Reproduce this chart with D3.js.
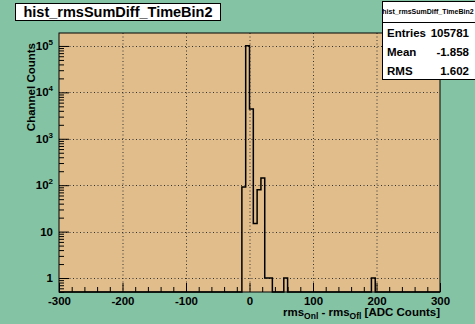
<!DOCTYPE html>
<html>
<head>
<meta charset="utf-8">
<script src="https://cdn.jsdelivr.net/npm/d3@7"></script>
<style>
  body { margin:0; background:#84c3a4; }
  svg { display:block; font-family:"Liberation Sans", Arial, sans-serif; }
  .tl { font-weight:bold; font-size:11.5px; fill:#000; }
</style>
</head>
<body>
<svg id="chart" width="475" height="324"></svg>
<script>
// histogram content (bins of width 6 between -300 and 300), only non-empty bins listed
const binWidth = 6;
const binLow = [-12, -6, 0, 6, 12, 18, 24, 30, 54, 192];
const counts = [91, 101000, 4400, 15, 80, 143, 1, 1, 1, 1];

const xTicks = [-300, -200, -100, 0, 100, 200, 300];
const yDecades = [1, 10, 100, 1000, 10000, 100000];
const yLabels = [["1", ""], ["10", ""], ["10", "2"], ["10", "3"], ["10", "4"], ["10", "5"]];

const statNames = ["Entries", "Mean", "RMS"];
const statValues = ["105781", "-1.858", "1.602"];
const histName = "hist_rmsSumDiff_TimeBin2";

const frame = {x0:59, x1:440, y0:33, y1:292};
const svg = d3.select('#chart');

const x = d3.scaleLinear().domain([-300, 300]).range([frame.x0, frame.x1]);
const y = d3.scaleLog().domain([0.5, 1.9e5]).range([frame.y1, frame.y0]);

// frame fill
svg.append('rect')
    .attr('x', frame.x0).attr('y', frame.y0)
    .attr('width', frame.x1-frame.x0).attr('height', frame.y1-frame.y0)
    .attr('fill', '#e0bd8b');

// grid (dotted)
const grid = svg.append('g').attr('stroke', '#333').attr('stroke-width', 1).attr('stroke-dasharray', '1,2.5');
grid.selectAll('line.gx').data(xTicks.slice(1, -1)).enter().append('line')
    .attr('x1', d => x(d)+0.5).attr('x2', d => x(d)+0.5)
    .attr('y1', frame.y0).attr('y2', frame.y1);
grid.selectAll('line.gy').data(yDecades).enter().append('line')
    .attr('y1', d => Math.round(y(d))+0.5).attr('y2', d => Math.round(y(d))+0.5)
    .attr('x1', frame.x0).attr('x2', frame.x1);

// full histogram
const full = d3.range(100).map(i => {
    const lo = -300 + i*binWidth;
    const k = binLow.indexOf(lo);
    return {lo:lo, hi:lo+binWidth, v: k < 0 ? 0 : counts[k]};
});
const yv = v => v > 0 ? y(v) : frame.y1;
let p = `M${x(-300)},${frame.y1}`;
full.forEach(b => { p += `L${x(b.lo)},${yv(b.v)}L${x(b.hi)},${yv(b.v)}`; });
p += `L${x(300)},${frame.y1}`;
svg.append('path').attr('d', p).attr('fill', 'none')
    .attr('stroke', '#000').attr('stroke-width', 1.5);

// frame border
svg.append('rect')
    .attr('x', frame.x0).attr('y', frame.y0)
    .attr('width', frame.x1-frame.x0).attr('height', frame.y1-frame.y0)
    .attr('fill', 'none').attr('stroke', '#000').attr('stroke-width', 1);

// x axis: inward ticks
const xMinor = d3.range(-300, 301, 20).filter(v => v % 100 !== 0);
svg.append('g').attr('transform', `translate(0,${frame.y1})`)
    .call(d3.axisBottom(x).tickValues(xMinor).tickSize(-5).tickFormat(''))
    .call(g => g.select('.domain').remove());
svg.append('g').attr('transform', `translate(0,${frame.y1})`)
    .call(d3.axisBottom(x).tickValues(xTicks).tickSize(-9).tickPadding(5).tickFormat(d3.format('d')))
    .call(g => g.select('.domain').remove())
    .call(g => g.selectAll('text').attr('class', 'tl').attr('font-family', null).attr('font-size', null).text(d => d));

// y axis: inward ticks
const yMinor = [];
[0.1, 1, 10, 100, 1000, 10000, 100000].forEach(dec => d3.range(2, 10).forEach(m => {
    const v = dec*m; if (v >= 0.5 && v <= 1.9e5) yMinor.push(v);
}));
svg.append('g').attr('transform', `translate(${frame.x0},0)`)
    .call(d3.axisLeft(y).tickValues(yMinor).tickSize(-5).tickFormat(''))
    .call(g => g.select('.domain').remove());
svg.append('g').attr('transform', `translate(${frame.x0},0)`)
    .call(d3.axisLeft(y).tickValues(yDecades).tickSize(-10).tickFormat(''))
    .call(g => g.select('.domain').remove());

const yl = svg.append('g');
yDecades.forEach((d, i) => {
    const t = yl.append('text').attr('class', 'tl')
        .attr('x', 53).attr('y', y(d) + 4).attr('text-anchor', 'end');
    t.append('tspan').text(yLabels[i][0]);
    if (yLabels[i][1]) t.append('tspan').attr('dy', -5).attr('font-size', 8).text(yLabels[i][1]);
});

// axis titles
svg.append('text').attr('class', 'tl')
    .attr('transform', `translate(35,${frame.y0+10}) rotate(-90)`)
    .attr('text-anchor', 'end').text('Channel Counts');

const xt = svg.append('text').attr('class', 'tl')
    .attr('x', frame.x1).attr('y', 316).attr('text-anchor', 'end');
xt.append('tspan').text('rms');
xt.append('tspan').attr('dy', 3).attr('font-size', 8.5).text('Onl');
xt.append('tspan').attr('dy', -3).text(' - rms');
xt.append('tspan').attr('dy', 3).attr('font-size', 8.5).text('Ofl');
xt.append('tspan').attr('dy', -3).text(' [ADC Counts]');

// title box
svg.append('rect').attr('x', 15.5).attr('y', 3.5).attr('width', 205).attr('height', 17)
    .attr('fill', '#fff').attr('stroke', '#000').attr('stroke-width', 1);
svg.append('text').attr('x', 118).attr('y', 17).attr('text-anchor', 'middle')
    .attr('font-weight', 'bold').attr('font-size', 14.5).text(histName);

// stats box (runs off the right edge)
const sb = {x:382.5, y:1.5, w:100, h:78};
svg.append('rect').attr('x', sb.x).attr('y', sb.y).attr('width', sb.w).attr('height', sb.h)
    .attr('fill', '#fff').attr('stroke', '#000');
svg.append('line').attr('x1', sb.x).attr('x2', sb.x+sb.w).attr('y1', 22.5).attr('y2', 22.5).attr('stroke', '#000');
svg.append('text').attr('x', 428).attr('y', 14).attr('text-anchor', 'middle')
    .attr('font-size', 7).attr('font-weight', 'bold').text(histName);
statNames.forEach((n, i) => {
    const yy = 37 + i*19;
    svg.append('text').attr('class', 'tl').attr('x', 387).attr('y', yy).attr('font-size', 11).text(n);
    svg.append('text').attr('class', 'tl').attr('x', 469).attr('y', yy).attr('text-anchor', 'end').text(statValues[i]);
});
</script>
</body>
</html>
